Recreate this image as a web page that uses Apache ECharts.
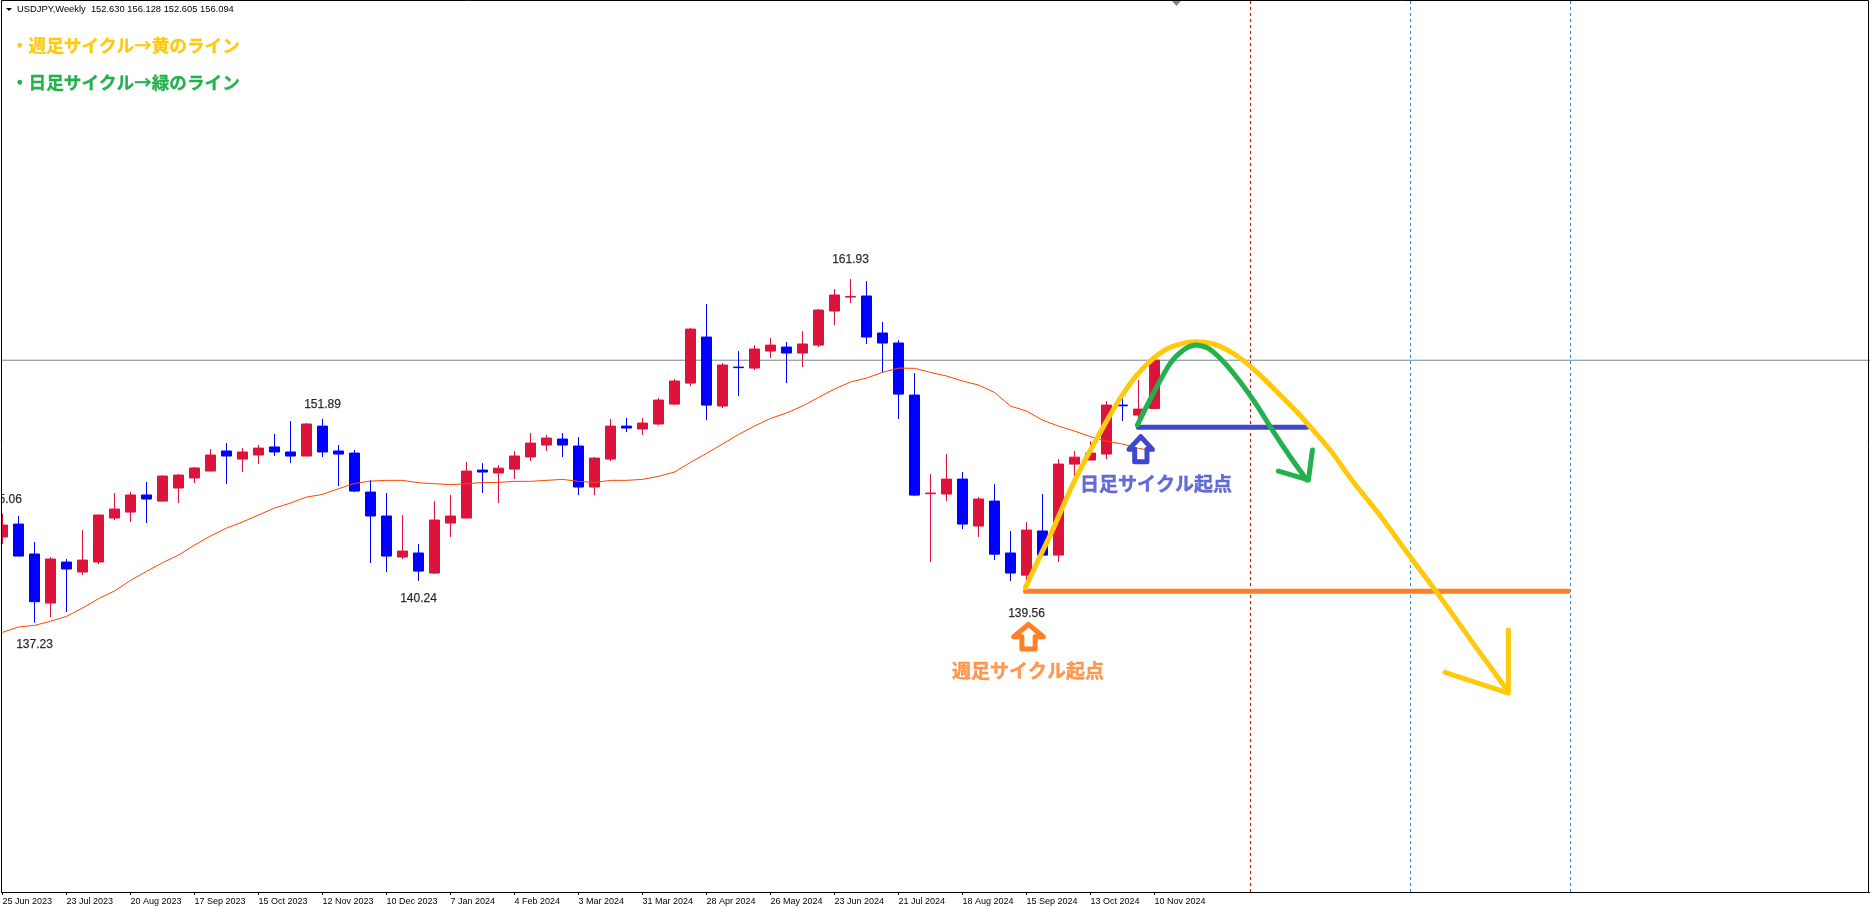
<!DOCTYPE html>
<html>
<head>
<meta charset="utf-8">
<style>html,body{margin:0;padding:0;background:#fff;overflow:hidden}#c{width:1870px;height:909px}</style>
<script src="https://cdn.jsdelivr.net/npm/echarts@6/dist/echarts.min.js"></script>
</head>
<body>
<div id="c"></div>
<script>
const tickLabels = ['25 Jun 2023','23 Jul 2023','20 Aug 2023','17 Sep 2023','15 Oct 2023','12 Nov 2023','10 Dec 2023','7 Jan 2024','4 Feb 2024','3 Mar 2024','31 Mar 2024','28 Apr 2024','26 May 2024','23 Jun 2024','21 Jul 2024','18 Aug 2024','15 Sep 2024','13 Oct 2024','10 Nov 2024'];
const opens = [143.39,144.32,142.17,138.64,141.59,140.87,141.59,144.75,145.18,146.41,
145.97,146.91,147.63,148.13,149.57,148.99,149.28,149.86,149.50,149.21,
151.36,149.57,149.42,146.62,144.90,141.95,142.24,140.80,144.39,144.75,
148.20,147.99,148.27,149.14,150.00,150.43,149.93,146.98,148.99,151.36,
151.15,151.51,152.94,154.45,157.76,152.80,155.60,155.53,156.75,157.04,
156.61,157.18,159.63,160.63,160.71,158.05,157.33,153.59,146.50,146.48,
147.55,144.18,145.97,142.24,140.65,143.82,142.09,148.63,148.92,149.35,
152.87,152.15,152.63];
const closes = [144.25,142.02,138.74,141.81,141.09,141.73,144.97,145.40,146.41,146.12,
147.77,147.84,148.35,149.28,149.21,149.50,149.78,149.50,149.21,151.51,
149.50,149.35,146.69,144.90,142.02,142.38,140.94,144.61,144.90,148.13,
148.06,148.34,149.21,150.14,150.50,150.00,146.98,149.06,151.36,151.22,
151.58,153.23,154.60,158.33,152.87,155.75,155.56,156.90,157.18,156.61,
157.26,159.70,160.78,160.68,157.76,157.33,153.66,146.40,146.55,147.55,
144.32,146.12,142.16,140.80,143.89,142.09,148.63,149.13,149.42,152.87,
152.82,152.58,156.094];
const highs = [145.06,144.90,143.03,141.95,141.81,143.89,144.97,146.55,146.62,147.34,
147.84,147.91,148.42,149.71,150.14,149.78,150.00,150.79,151.72,151.58,
151.89,150.00,149.64,147.48,146.55,144.97,142.88,145.97,146.41,148.78,
148.70,148.56,149.57,150.86,150.72,150.86,150.57,149.14,151.87,151.94,
151.94,153.38,154.74,158.41,160.13,155.89,156.75,157.18,157.69,157.40,
158.19,159.77,161.21,161.93,161.78,158.84,157.54,155.17,147.91,149.35,
148.06,146.26,147.19,143.82,144.46,146.48,148.99,149.57,150.28,153.16,
153.88,154.67,156.128];
const lows = [142.88,142.02,137.23,137.64,138.00,140.66,141.45,144.61,144.47,144.39,
145.97,145.83,147.27,148.13,147.20,148.06,148.63,149.21,148.71,149.21,
149.14,147.05,146.62,141.52,140.87,141.81,140.24,140.73,143.39,144.75,
146.55,145.83,147.55,148.85,149.57,149.14,146.40,146.40,148.85,150.93,
150.72,151.43,152.87,154.24,151.79,152.66,153.52,155.39,156.25,154.45,
155.60,157.04,158.62,160.20,157.26,155.22,151.87,146.33,141.59,145.97,
143.96,143.39,141.73,140.22,139.56,142.00,141.59,147.24,148.92,148.99,
151.72,151.79,152.605];
const movingAverage = [136.54,136.92,137.04,137.33,137.69,138.28,138.96,139.51,140.27,140.92,
141.54,142.09,142.81,143.46,144.03,144.47,144.97,145.47,145.83,146.26,
146.45,146.86,147.24,147.41,147.46,147.46,147.29,147.22,147.15,147.22,
147.31,147.31,147.39,147.39,147.46,147.53,147.39,147.31,147.46,147.46,
147.53,147.75,148.06,148.75,149.40,150.07,150.76,151.36,151.91,152.30,
152.80,153.42,154.02,154.53,154.81,155.22,155.53,155.51,155.22,154.96,
154.60,154.31,153.78,152.80,152.44,151.79,151.36,151.00,150.60,150.28,
150.07,149.76,149.57];
const pivotIndex = [0,2,20,26,53,64];
const pivotPrice = [145.06,137.23,151.89,140.24,161.93,139.56];
const currentPrice = 156.094;
const redCycleLine = 78;
const blueCycleLines = [88,98];
const weeklyCycle = [[63.93,139.75],[64.74,141.74],[65.68,144.01],[66.73,146.77],[67.77,149.16],[68.81,151.32],[69.85,153.36],[70.89,155.03],[71.93,156.23],[72.98,157.02],[74.54,157.42],[75.68,157.26],[76.73,156.71],[77.77,155.87],[78.81,154.79],[79.85,153.59],[80.89,152.39],[81.73,151.32],[82.98,149.64],[84.33,147.49],[85.99,145.09],[87.98,141.97],[89.54,139.58],[92.14,135.39],[94.12,132.27]];
const weeklyHead = [[94.12,136.71],[94.12,132.18],[90.16,133.67]];
const dailyCycle = [[70.93,151.44],[71.93,153.72],[72.98,155.87],[73.81,156.83],[74.54,157.19],[75.37,156.95],[76.31,155.99],[77.35,154.55],[78.39,152.87],[79.43,150.96],[80.48,149.16],[81.52,147.49]];
const dailyHead = [[81.87,149.64],[81.62,147.49],[79.74,148.13]];
const weeklyStartLine = [[63.93,139.49],[97.85,139.49]];
const dailyStartLine = [[70.99,151.27],[81.52,151.27]];
const weeklyUpArrow = [[64.12,137.11],[63.20,136.22],[63.71,136.22],[63.71,135.34],[64.54,135.34],[64.54,136.22],[65.05,136.22],[64.12,137.11]];
const dailyUpArrow = [[71.14,150.60],[70.40,149.69],[70.76,149.69],[70.76,148.80],[71.53,148.80],[71.53,149.69],[71.87,149.69],[71.14,150.60]];
const weeklyStartText = '週足サイクル起点';
const dailyStartText = '日足サイクル起点';
const weeklyNote = '・週足サイクル→黄のライン';
const dailyNote = '・日足サイクル→緑のライン';
const headerText = 'USDJPY,Weekly  152.630 156.128 152.605 156.094';

const pivotOffsets = [[1,-14],[0,22],[0,-14],[0,18],[0,-19],[0,23]];
const YELLOW='#FFC90E', GREEN='#22B14C', ORANGE='#FF7F27', INDIGO='#3F48CC';
const UP='#DC143C', DOWN='#0000FF';
const CJK='"Noto Sans CJK JP","Noto Sans",sans-serif';
const BAND_COUNT=118, BAND=16, PRICE_MIN=117.88, PRICE_MAX=181.98;

const categories = Array.from({length:BAND_COUNT},(_,i)=> (i%4===0 && tickLabels[i/4]) ? tickLabels[i/4] : 'w'+i);
const isLabelled = i => i%4===0 && i/4<tickLabels.length;

function stroke(data,color,width,smooth,z){
  return {type:'line',xAxisIndex:1,data,smooth:smooth||false,showSymbol:false,symbol:'none',z:z||10,silent:true,
    lineStyle:{color,width,cap:'round',join:'round'}};
}
function vline(x,color,dash){
  return {type:'line',xAxisIndex:1,data:[[x,PRICE_MIN],[x,PRICE_MAX]],showSymbol:false,symbol:'none',z:1,silent:true,
    lineStyle:{color,width:1,type:dash}};
}
function note(x,y,text,color){
  return {type:'scatter',xAxisIndex:1,data:[[x,y]],symbolSize:1,itemStyle:{color:'transparent'},z:12,silent:true,clip:false,
    label:{show:true,position:'inside',formatter:text,color,textBorderColor:color,textBorderWidth:0.4,fontFamily:CJK,fontSize:19,fontWeight:'bold',align:'center',verticalAlign:'middle'}};
}

const option={
  animation:false,
  backgroundColor:'#fff',
  grid:{left:-5.5,top:0,width:BAND*BAND_COUNT,height:892,containLabel:false,outerBoundsMode:'none'},
  xAxis:[
    {type:'category',data:categories,boundaryGap:true,
      axisLine:{show:true,onZero:false,lineStyle:{color:'#000',width:1}},
      axisTick:{show:true,length:3,alignWithLabel:true,interval:(i)=>isLabelled(i),lineStyle:{color:'#000'}},
      axisLabel:{show:true,interval:(i)=>isLabelled(i),formatter:(v)=>v,align:'left',margin:5,color:'#000',
        fontFamily:'"Liberation Sans",Arial,sans-serif',fontSize:9,hideOverlap:false},
      splitLine:{show:false}},
    {type:'value',min:-0.5,max:BAND_COUNT-0.5,show:false,splitLine:{show:false}}
  ],
  yAxis:{type:'value',min:PRICE_MIN,max:PRICE_MAX,show:false,scale:true,splitLine:{show:false}},
  series:[
    {type:'line',xAxisIndex:1,data:[[-0.5,currentPrice],[BAND_COUNT-0.5,currentPrice]],showSymbol:false,symbol:'none',z:1,silent:true,
      lineStyle:{color:'#778899',width:1}},
    vline(redCycleLine,'#FF0000',[3,3]),
    ...blueCycleLines.map(x=>vline(x,'#1E90FF',[3,3])),
    {type:'candlestick',xAxisIndex:0,z:2,silent:true,barWidth:10,
      data:opens.map((o,i)=>[o,closes[i],lows[i],highs[i]]),
      itemStyle:{color:UP,color0:DOWN,borderColor:UP,borderColor0:DOWN,borderWidth:1}},
    {type:'line',xAxisIndex:0,data:movingAverage,showSymbol:false,symbol:'none',z:3,silent:true,
      lineStyle:{color:'#FF4500',width:1}},
    stroke(weeklyStartLine,ORANGE,5,false,8),
    stroke(dailyStartLine,INDIGO,5,false,8),
    stroke(weeklyUpArrow,ORANGE,5,false,8),
    stroke(dailyUpArrow,INDIGO,5,false,8),
    stroke(weeklyCycle,YELLOW,5,0.25,9),
    stroke(weeklyHead,YELLOW,5,false,9),
    stroke(dailyCycle,GREEN,5,0.25,10),
    stroke(dailyHead,GREEN,5,false,10),
    note(64.1,133.78,weeklyStartText,ORANGE),
    note(72.1,147.20,dailyStartText,INDIGO),
    ...pivotIndex.map((x,i)=>({type:'scatter',xAxisIndex:1,data:[[x,pivotPrice[i]]],symbolSize:1,itemStyle:{color:'transparent'},z:12,silent:true,clip:false,
      label:{show:true,position:'inside',formatter:pivotPrice[i].toFixed(2),color:'#000',textBorderColor:'#000',textBorderWidth:0.25,offset:pivotOffsets[i],
        fontFamily:'"Liberation Sans",Arial,sans-serif',fontSize:12,align:'center',verticalAlign:'middle'}}))
  ],
  graphic:[
    {type:'rect',z:100,silent:true,shape:{x:0,y:0,width:1,height:909},style:{fill:'#fff'}},
    {type:'rect',z:101,silent:true,shape:{x:1.5,y:0.5,width:1867,height:892},style:{fill:'none',stroke:'#000',lineWidth:1}},
    {type:'polygon',z:102,silent:true,shape:{points:[[1172,1],[1181,1],[1176.5,6]]},style:{fill:'#778899'}},
    {type:'polygon',z:102,silent:true,shape:{points:[[6,8],[12,8],[9,11]]},style:{fill:'#000'}},
    {type:'text',z:102,silent:true,x:17,y:9,style:{text:headerText,fill:'#000',font:'9.35px "Liberation Sans",Arial,sans-serif',verticalAlign:'middle',align:'left'}},
    {type:'text',z:102,silent:true,x:11,y:45,style:{text:weeklyNote,fill:YELLOW,stroke:YELLOW,lineWidth:0.3,font:'bold 17.6px '+CJK,verticalAlign:'middle',align:'left'}},
    {type:'text',z:102,silent:true,x:11,y:82,style:{text:dailyNote,fill:GREEN,stroke:GREEN,lineWidth:0.3,font:'bold 17.6px '+CJK,verticalAlign:'middle',align:'left'}}
  ]
};
const chart=echarts.init(document.getElementById('c'),null,{renderer:'canvas'});
chart.setOption(option);
</script>
</body>
</html>
